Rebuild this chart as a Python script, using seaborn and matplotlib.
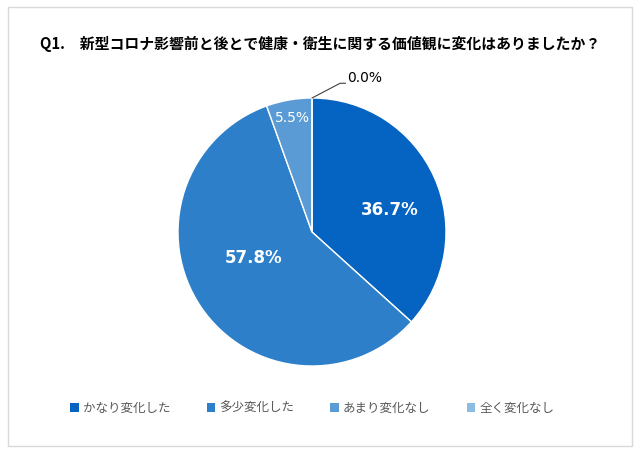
import numpy as np
import seaborn as sns
import matplotlib
matplotlib.use('Agg')
import matplotlib.pyplot as plt
from matplotlib.patches import Rectangle

# data
categories = ['かなり変化した', '多少変化した', 'あまり変化なし', '全く変化なし']
shares = [36.7, 57.8, 5.5, 0.0]
colors = ['#0563C1', '#2E7FC9', '#5B9BD5', '#8DBCE3']
title = 'Q1.　新型コロナ影響前と後とで健康・衛生に関する価値観に変化はありましたか？'

sns.set_theme(style='white')
plt.rcParams['font.family'] = ['Noto Sans CJK JP', 'DejaVu Sans']

fig = plt.figure(figsize=(6.4, 4.53), dpi=100)
fig.patch.set_facecolor('white')
fig.patches.append(Rectangle((8 / 640, 7 / 453), 624 / 640, 439 / 453, transform=fig.transFigure,
                             fill=False, edgecolor='#d9d9d9', linewidth=1))

# pie axes: centre (312, 232) px, radius 134 px
ax = fig.add_axes([(312 - 134) / 640, (453 - 232 - 134) / 453, 268 / 640, 268 / 453])
wedges, _ = ax.pie(shares, colors=colors, startangle=90, counterclock=False, radius=1,
                   wedgeprops=dict(edgecolor='white', linewidth=1))
ax.set_xlim(-1, 1)
ax.set_ylim(-1, 1)
ax.axis('off')

# labels inside slices (distance from centre, angle shift from the slice middle)
dist = [0.60, 0.48, 0.86]
shift = [-8, -10, 0]
fsize = [12, 12, 10]
weight = ['bold', 'bold', 'normal']
for i, w in enumerate(wedges[:3]):
    ang = np.deg2rad((w.theta1 + w.theta2) / 2 + shift[i])
    ax.text(dist[i] * np.cos(ang), dist[i] * np.sin(ang), f'{shares[i]:.1f}%',
            ha='center', va='center', color='white', fontsize=fsize[i], fontweight=weight[i],
            family='DejaVu Sans')

# 0.0% label with leader line
ang = np.deg2rad(wedges[3].theta1)
x0, y0 = np.cos(ang), np.sin(ang)
ax.plot([x0, x0 + 0.21, x0 + 0.25], [y0, y0 + 0.11, y0 + 0.11], color='#404040', lw=0.8, clip_on=False)
ax.text(x0 + 0.26, y0 + 0.15, f'{shares[3]:.1f}%', ha='left', va='center', fontsize=10,
        color='black', family='DejaVu Sans')

fig.text(0.5, 1 - 44 / 453, title, ha='center', va='center', fontsize=10.7, fontweight='bold',
         color='black')

handles = [Rectangle((0, 0), 1, 1, facecolor=c, edgecolor='none') for c in colors]
fig.legend(handles, categories, loc='center', bbox_to_anchor=(0.488, 1 - 408 / 453), ncol=4,
           frameon=False, fontsize=9, handlelength=0.7, handleheight=0.7, handletextpad=0.3,
           columnspacing=2.9, labelcolor='#595959')

plt.savefig('out.png', dpi=100)
plt.close()
